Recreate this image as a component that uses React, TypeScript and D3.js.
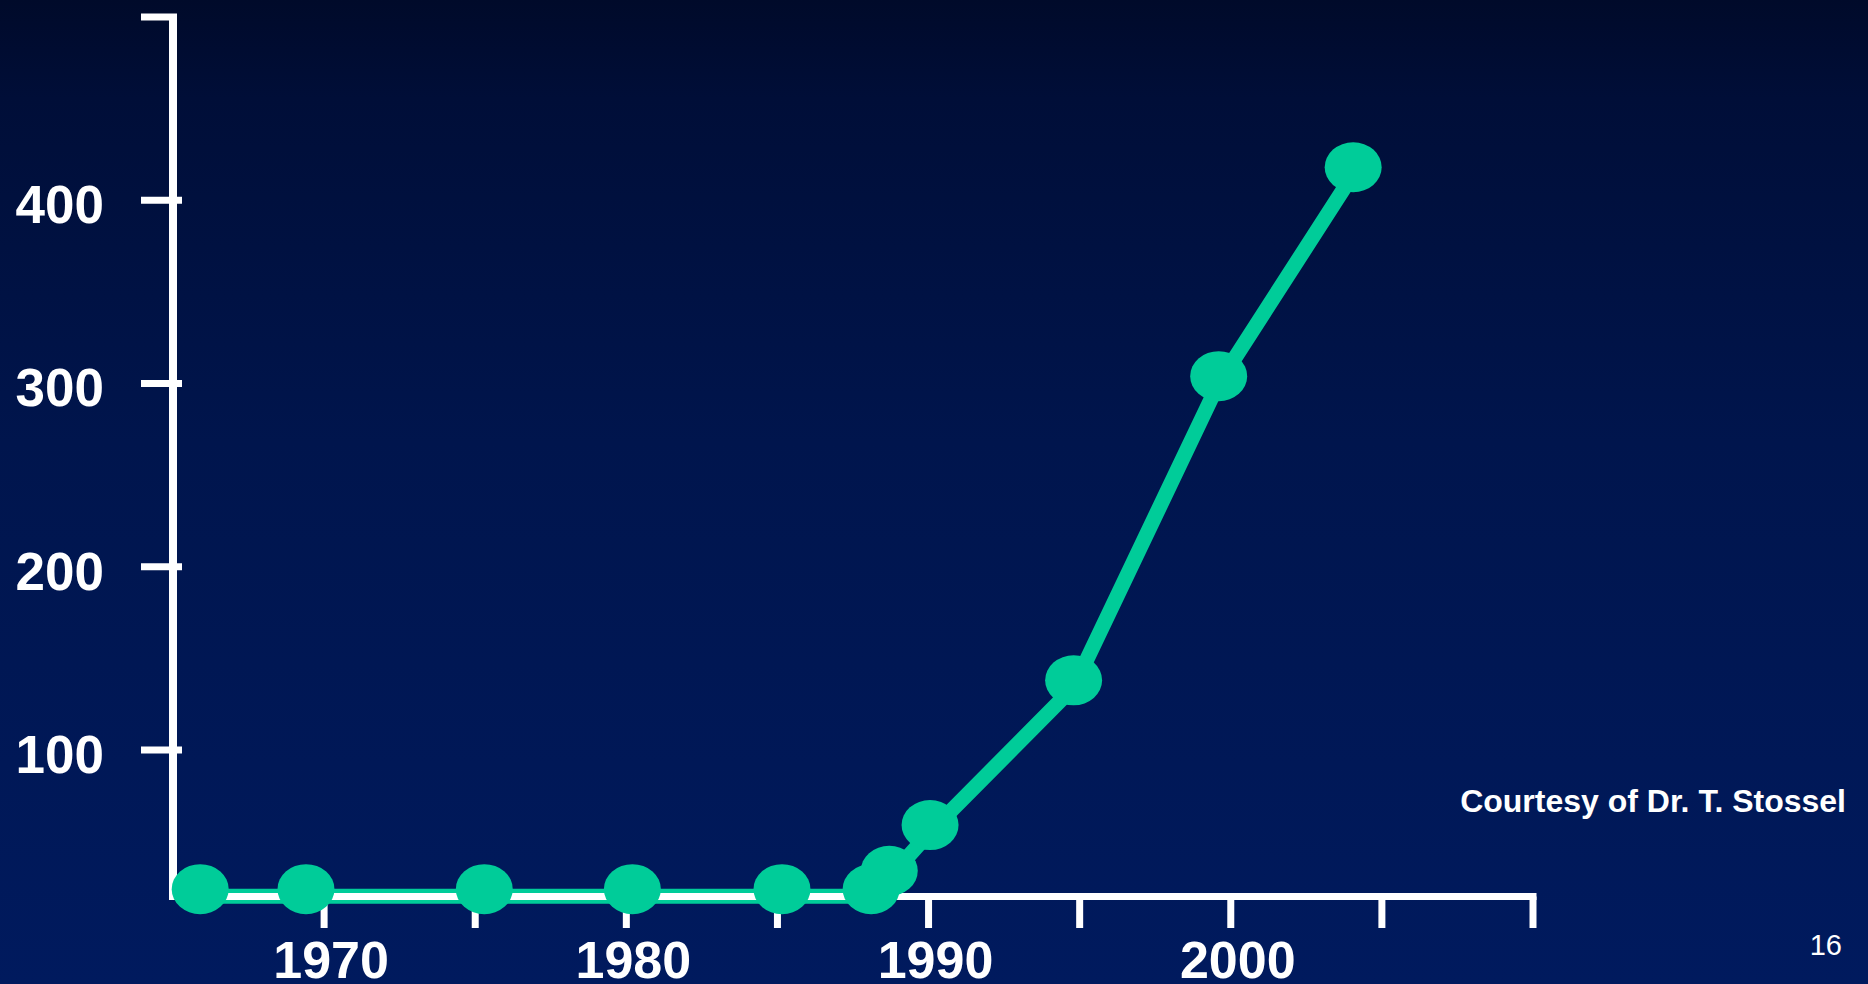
import React, { useEffect } from "react";
import * as d3 from "d3";

// ---- data ----
const years: number[] = [1965.9, 1969.4, 1975.3, 1980.2, 1985.15, 1988.1, 1988.7, 1990.05, 1994.8, 1999.6, 2004.05];
const values: number[] = [24, 24, 24, 24, 24, 24, 34, 59, 138, 304, 418];
const yTickValues: number[] = [100, 200, 300, 400];
const yTopTick: number = 500;
const xTickValues: number[] = [1970, 1975, 1980, 1985, 1990, 1995, 2000, 2005, 2010];
const xLabelYears: number[] = [1970, 1980, 1990, 2000];
const creditText = "Courtesy of Dr. T. Stossel";
const pageNumber = "16";

// ---- layout / style ----
const W = 1868;
const H = 984;
const GREEN = "#00CC99";
const WHITE = "#FFFFFF";
const FONT = "'Liberation Sans', Arial, Helvetica, sans-serif";
const LINE_OFFSET = 7;

export default function App() {
  useEffect(() => {
    document.body.style.margin = "0";
    document.body.style.overflow = "hidden";
  }, []);

  const x = d3.scaleLinear().domain([1965, 2010]).range([173, 1533]);
  const y = d3.scaleLinear().domain([20, 500]).range([896.5, 17]);

  const pts = years.map((yr, i) => ({ yr, v: values[i] }));
  const line = d3
    .line<{ yr: number; v: number }>()
    .x((d) => x(d.yr))
    .y((d) => y(d.v));

  const axisY0 = y(20);
  const axisX0 = x(1965);

  return (
    <svg width={W} height={H} style={{ display: "block", position: "absolute", left: 0, top: 0 }}>
      <defs>
        <linearGradient id="bg" x1="0" y1="0" x2="0" y2="1">
          <stop offset="0%" stopColor="#000a2a" />
          <stop offset="10%" stopColor="#000e38" />
          <stop offset="45%" stopColor="#00154d" />
          <stop offset="100%" stopColor="#001a5e" />
        </linearGradient>
      </defs>
      <rect x={0} y={0} width={W} height={H} fill="url(#bg)" />

      {/* data line */}
      <path
        d={line(pts) || ""}
        transform={`translate(0,${LINE_OFFSET})`}
        fill="none"
        stroke={GREEN}
        strokeWidth={15}
        strokeLinejoin="round"
      />

      {/* y axis */}
      <line x1={axisX0} x2={axisX0} y1={y(yTopTick)} y2={axisY0 + 3.5} stroke={WHITE} strokeWidth={8} />
      <line x1={141} x2={axisX0 + 4} y1={y(yTopTick)} y2={y(yTopTick)} stroke={WHITE} strokeWidth={7} />
      {yTickValues.map((t) => (
        <g key={`yt${t}`}>
          <line x1={141} x2={182} y1={y(t)} y2={y(t)} stroke={WHITE} strokeWidth={7} />
          <text
            x={104}
            y={y(t) + 23}
            textAnchor="end"
            fill={WHITE}
            fontFamily={FONT}
            fontWeight="bold"
            fontSize={53}
          >
            {t}
          </text>
        </g>
      ))}

      {/* x axis */}
      <line x1={axisX0 - 4} x2={x(2010) + 3.5} y1={axisY0} y2={axisY0} stroke={WHITE} strokeWidth={7} />
      {xTickValues.map((t) => (
        <line key={`xt${t}`} x1={x(t)} x2={x(t)} y1={axisY0} y2={928} stroke={WHITE} strokeWidth={7} />
      ))}
      {xLabelYears.map((t) => (
        <text
          key={`xl${t}`}
          x={x(t) + 7}
          y={978}
          textAnchor="middle"
          fill={WHITE}
          fontFamily={FONT}
          fontWeight="bold"
          fontSize={52}
        >
          {t}
        </text>
      ))}

      {/* markers */}
      {pts.map((d, i) => (
        <ellipse key={`m${i}`} cx={x(d.yr)} cy={y(d.v)} rx={28.5} ry={25} fill={GREEN} />
      ))}

      {/* credit and page number */}
      <text x={1846} y={812} textAnchor="end" fill={WHITE} fontFamily={FONT} fontWeight="bold" fontSize={32}>
        {creditText}
      </text>
      <text x={1842} y={955} textAnchor="end" fill={WHITE} fontFamily={FONT} fontSize={29}>
        {pageNumber}
      </text>
    </svg>
  );
}
